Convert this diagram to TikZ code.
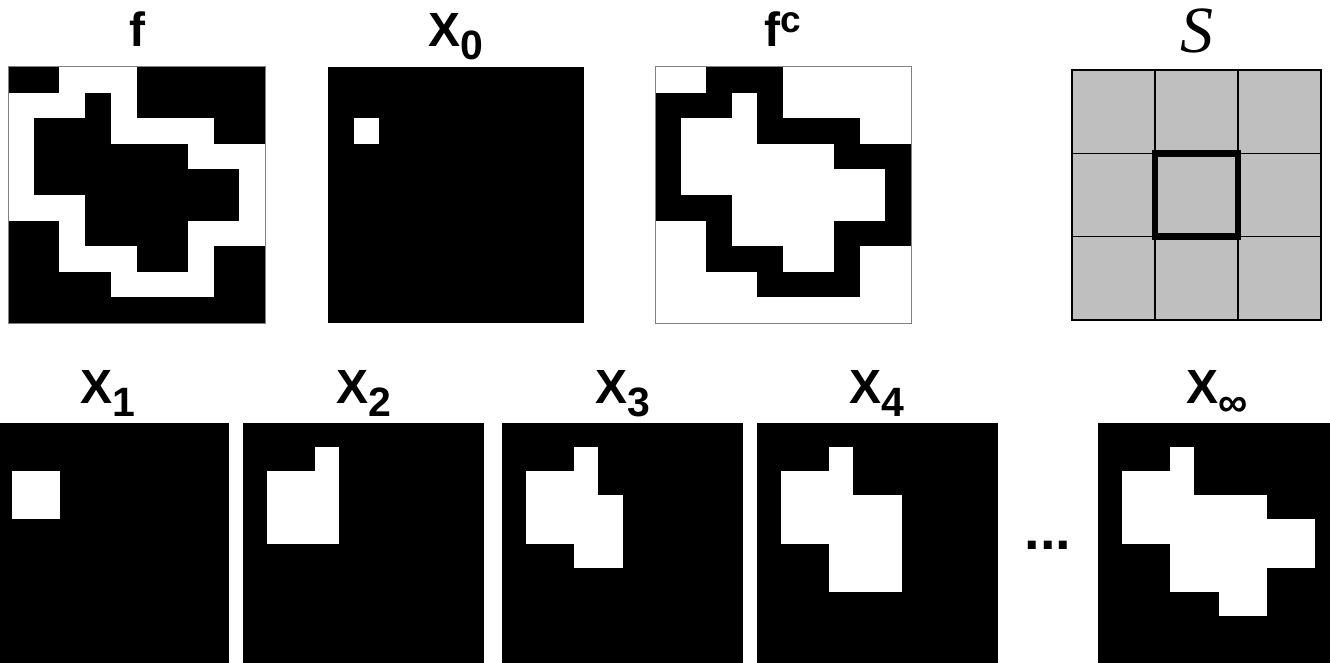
\documentclass[tikz,border=0pt]{standalone}
\usepackage{fontspec}
\setmainfont{Liberation Sans}
\newfontfamily\timesfam{Liberation Serif}
\tikzset{
  lbl/.style={anchor=base, inner sep=0pt, font=\fontsize{48}{50}\selectfont\bfseries},
  pixblack/.style={fill=black},
  pixwhite/.style={fill=white},
  frameline/.style={draw=black!50, line width=1pt},
}
\newcommand{\subtxt}[1]{\raisebox{-13pt}{\fontsize{41}{42}\selectfont #1}}
\newcommand{\suptxt}[1]{\raisebox{14pt}{\fontsize{37}{40}\selectfont #1}}
\begin{document}
\begin{tikzpicture}[x=1pt,y=-1pt]
\useasboundingbox (0,0) rectangle (1330,663);
\clip (0,0) rectangle (1330,663);
\fill[white] (0,0) rectangle (1330,663);

% ---- f ----
\begin{scope}[shift={(8,67)}, x=25.7pt, y=-25.6pt]
  \fill[white] (0,0) rectangle (10,10);
  \foreach \r/\a/\b in {0/0/1,0/5/9,1/3/3,1/5/9,2/1/3,2/8/9,3/1/6,4/1/8,5/3/8,6/0/1,6/3/6,7/0/1,7/5/6,7/8/9,8/0/3,8/8/9,9/0/9}
    \fill[pixblack] (\a,\r) rectangle ({\b+1},{\r+1});
  \draw[frameline] (0,0) rectangle (10,10);
\end{scope}

% ---- X0 ----
\begin{scope}[shift={(328,67)}, x=25.6pt, y=-25.6pt]
  \fill[pixblack] (0,0) rectangle (10,10);
  \fill[pixwhite] (1,2) rectangle (2,3);
\end{scope}

% ---- f^c ----
\begin{scope}[shift={(655,67)}, x=25.6pt, y=-25.6pt]
  \fill[white] (0,0) rectangle (10,10);
  \foreach \r/\a/\b in {0/2/4,1/0/2,1/4/4,2/0/0,2/4/7,3/0/0,3/7/9,4/0/0,4/9/9,5/0/2,5/9/9,6/2/2,6/7/9,7/2/4,7/7/7,8/4/7}
    \fill[pixblack] (\a,\r) rectangle ({\b+1},{\r+1});
  \draw[frameline] (0,0) rectangle (10,10);
\end{scope}

% ---- S ----
\begin{scope}[shift={(1072,70)}, x=83pt, y=-83.3pt]
  \fill[black!25] (0,0) rectangle (3,3);
  \foreach \i in {0,1,2,3} {
    \draw[line width=1.5pt, line cap=rect] (\i,0) -- (\i,3);
    \draw[line width=1.5pt, line cap=rect] (0,\i) -- (3,\i);
  }
  \draw[line width=6.5pt] (1,1) rectangle (2,2);
\end{scope}

% ---- bottom row ----
\begin{scope}[shift={(-12,423)}, x=24.1pt, y=-24.1pt]
  \fill[pixblack] (0,0) rectangle (10,10);
  \foreach \r/\a/\b in {2/1/2,3/1/2}
    \fill[pixwhite] (\a,\r) rectangle ({\b+1},{\r+1});
\end{scope}
\begin{scope}[shift={(243,423)}, x=24.1pt, y=-24.1pt]
  \fill[pixblack] (0,0) rectangle (10,10);
  \foreach \r/\a/\b in {1/3/3,2/1/3,3/1/3,4/1/3}
    \fill[pixwhite] (\a,\r) rectangle ({\b+1},{\r+1});
\end{scope}
\begin{scope}[shift={(502,423)}, x=24.1pt, y=-24.1pt]
  \fill[pixblack] (0,0) rectangle (10,10);
  \foreach \r/\a/\b in {1/3/3,2/1/3,3/1/4,4/1/4,5/3/4}
    \fill[pixwhite] (\a,\r) rectangle ({\b+1},{\r+1});
\end{scope}
\begin{scope}[shift={(757,423)}, x=24.1pt, y=-24.1pt]
  \fill[pixblack] (0,0) rectangle (10,10);
  \foreach \r/\a/\b in {1/3/3,2/1/3,3/1/5,4/1/5,5/3/5,6/3/5}
    \fill[pixwhite] (\a,\r) rectangle ({\b+1},{\r+1});
\end{scope}
\begin{scope}[shift={(1098,423)}, x=24.1pt, y=-24.1pt]
  \fill[pixblack] (0,0) rectangle (10,10);
  \foreach \r/\a/\b in {1/3/3,2/1/3,3/1/6,4/1/8,5/3/8,6/3/6,7/5/6}
    \fill[pixwhite] (\a,\r) rectangle ({\b+1},{\r+1});
\end{scope}

% ---- labels ----
\node[lbl] (lf)  at (137,47) {f};
\node[lbl] (lx0) at (456,47) {X\subtxt{0}};
\node[lbl] (lfc) at (783,47) {f\suptxt{c}};
\node[anchor=base, inner sep=0pt, font=\fontsize{66}{68}\selectfont\timesfam\itshape] (ls) at (1197,53) {S};
\node[lbl] (lx1) at (108,403) {X\subtxt{1}};
\node[lbl] (lx2) at (364,403) {X\subtxt{2}};
\node[lbl] (lx3) at (623,403) {X\subtxt{3}};
\node[lbl] (lx4) at (877,403) {X\subtxt{4}};
\node[lbl] (lxi) at (1217,403) {X\subtxt{∞}};
\node[lbl, font=\fontsize{56}{58}\selectfont\bfseries] (dots) at (1048,549) {...};
\end{tikzpicture}
\end{document}
